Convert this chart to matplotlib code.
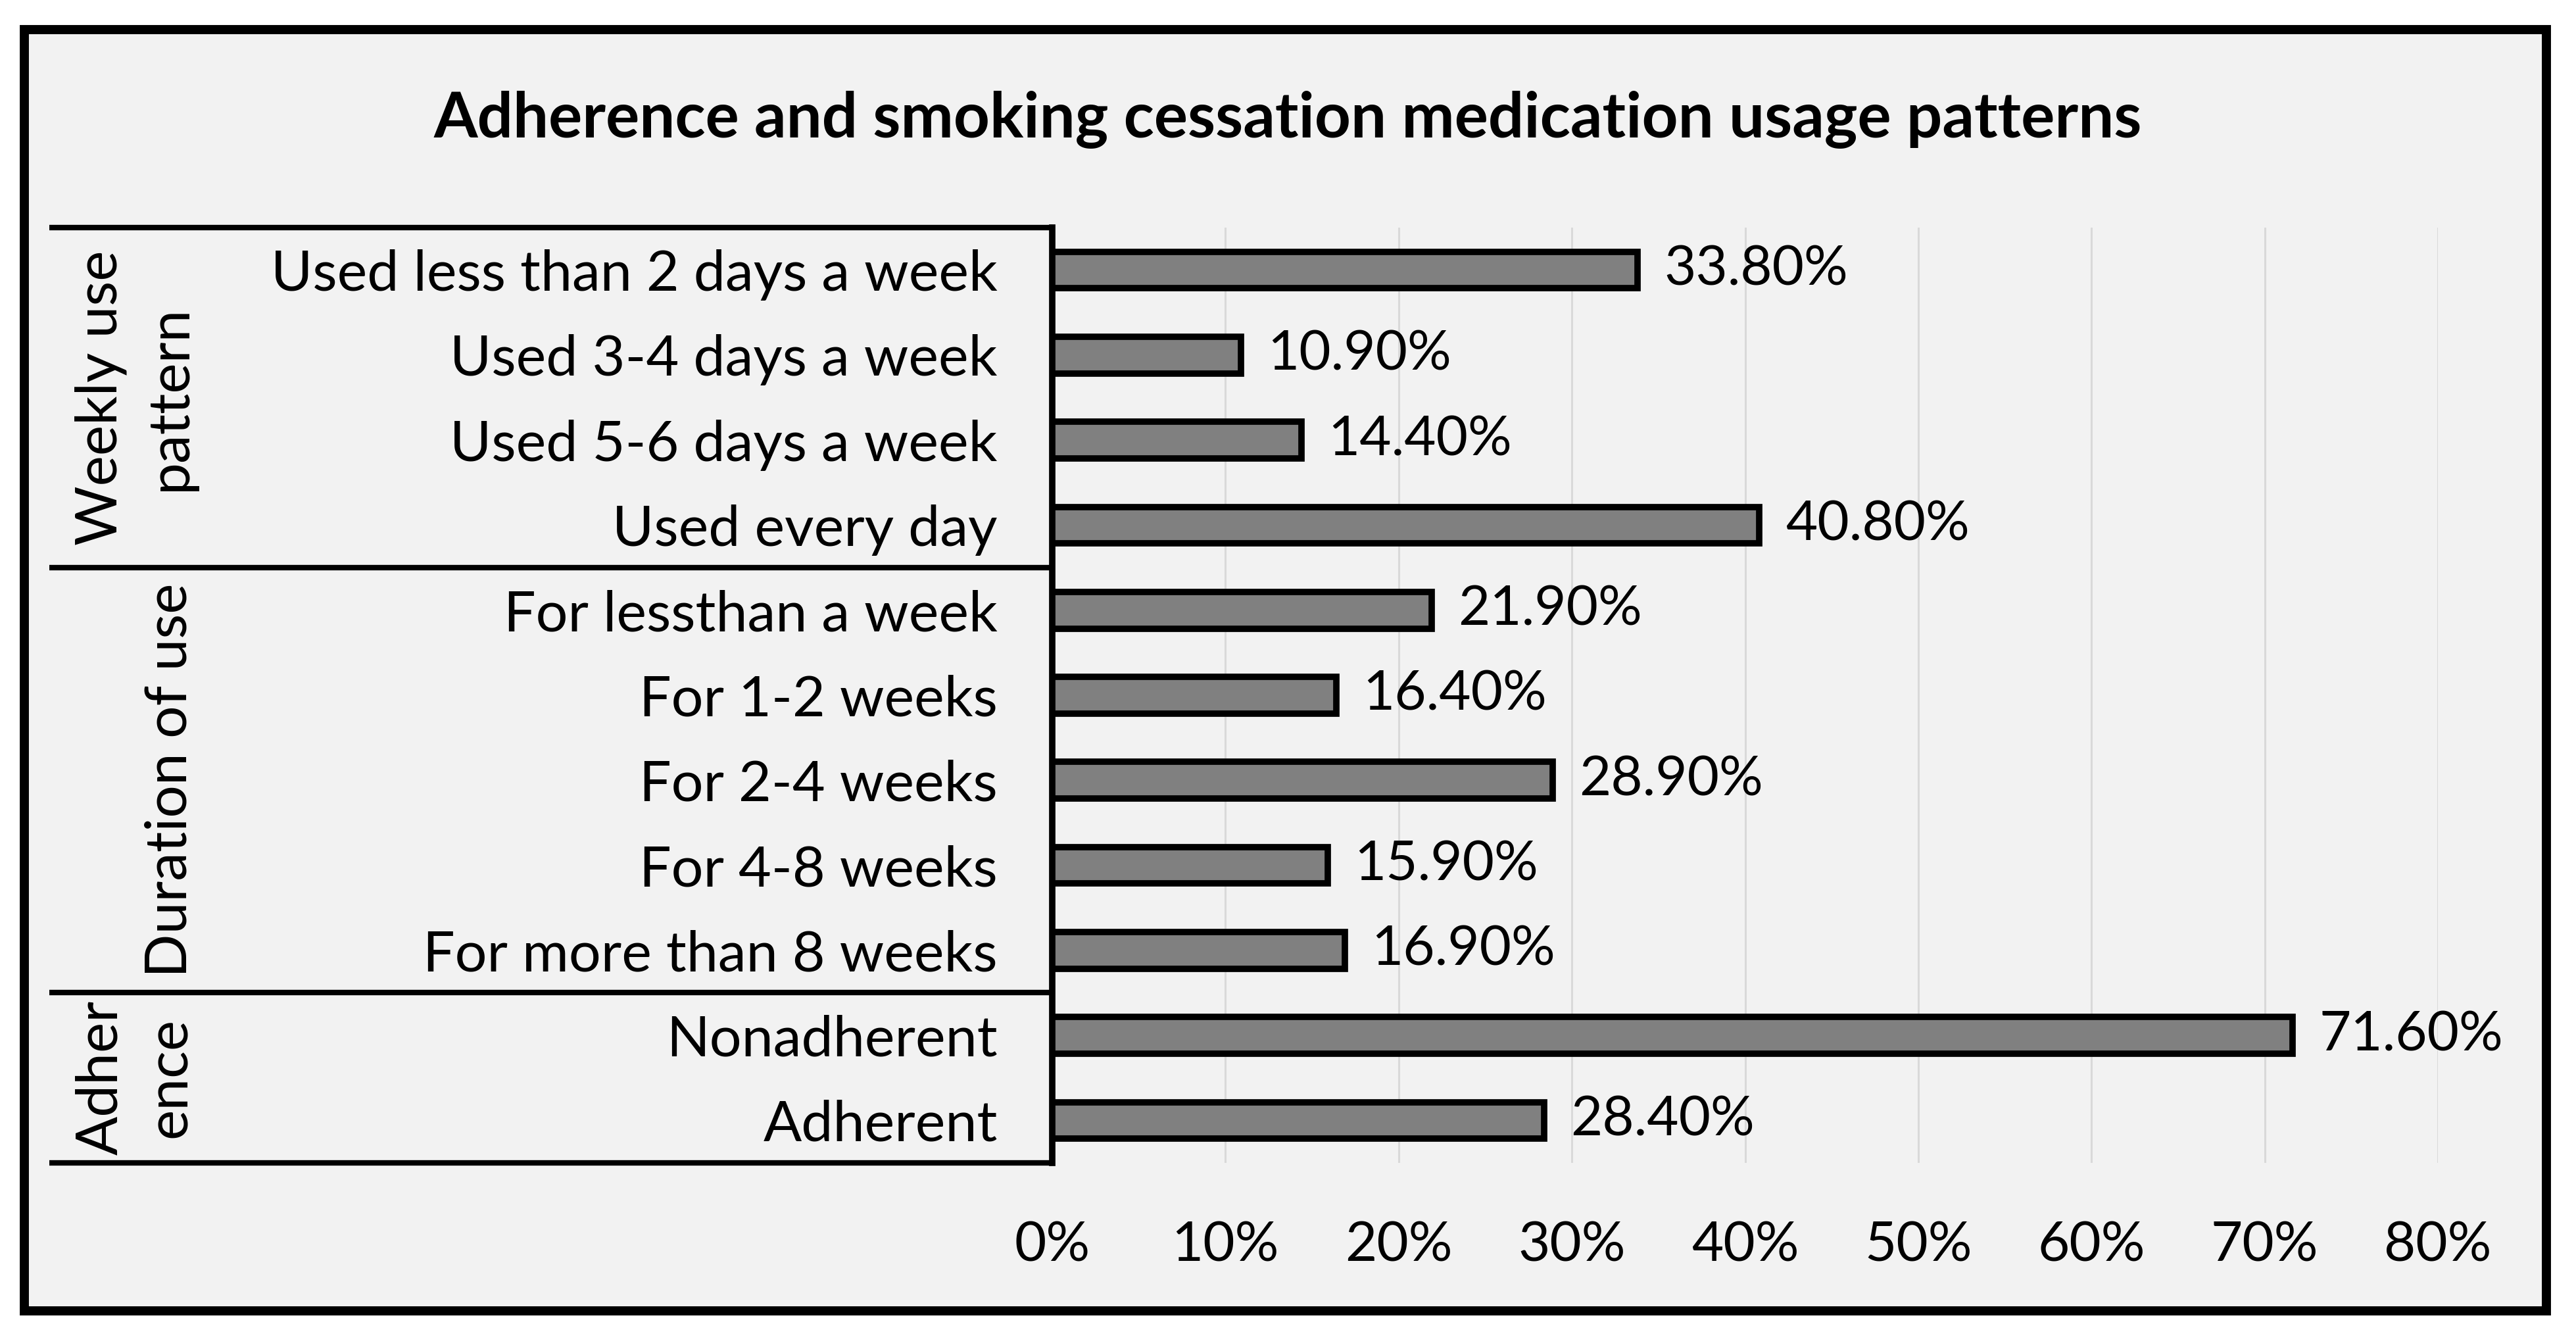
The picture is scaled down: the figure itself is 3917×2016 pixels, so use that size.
import matplotlib.pyplot as plt
from matplotlib.patches import Rectangle

# --- Данные ---
categories = ['Used less than 2 days a week', 'Used 3-4 days a week', 'Used 5-6 days a week',
              'Used every day', 'For lessthan a week', 'For 1-2 weeks', 'For 2-4 weeks',
              'For 4-8 weeks', 'For more than 8 weeks', 'Nonadherent', 'Adherent']
values = [33.8, 10.9, 14.4, 40.8, 21.9, 16.4, 28.9, 15.9, 16.9, 71.6, 28.4]
groups = ['Weekly use\npattern', 'Duration of use', 'Adher\nence']
group_sizes = [4, 5, 2]
xticks = [0, 10, 20, 30, 40, 50, 60, 70, 80]
title = 'Adherence and smoking cessation medication usage patterns'

W, H = 3917, 2016
DPI = 100
FONT = 'Lato'
FS = 60

plt.rcParams['font.family'] = [FONT, 'DejaVu Sans']

fig = plt.figure(figsize=(W / DPI, H / DPI), dpi=DPI, facecolor='white')

# рамка и фон
fig.patches.append(Rectangle((37 / W, 23 / H), (3872 - 37) / W, (1993 - 45) / H,
                             transform=fig.transFigure, facecolor='#f2f2f2',
                             edgecolor='black', linewidth=10, zorder=-10))

fig.text(0.5, 1 - 182 / H, title, ha='center', va='center', fontsize=69,
         fontweight='bold')

ax_left, ax_right = 1600, 3707
ax_top, ax_bottom = 346, 1768
ax = fig.add_axes([ax_left / W, (H - ax_bottom) / H, (ax_right - ax_left) / W,
                   (ax_bottom - ax_top) / H])
ax.set_facecolor('none')

y = list(range(len(categories)))
bars = ax.barh(y, values, height=0.43, color='#808080', edgecolor='black',
               linewidth=7, zorder=3)
for b, v in zip(bars, values):
    ax.annotate(f'{v:.2f}%', (b.get_width(), b.get_y() + b.get_height() / 2),
                xytext=(29, 0), textcoords='offset points', va='center',
                ha='left', fontsize=FS, annotation_clip=False)

ax.set_xlim(0, 80)
ax.set_ylim(len(categories) - 0.5, -0.5)
ax.set_xticks(xticks, labels=[f'{t}%' for t in xticks])
ax.set_yticks(y, labels=categories)
ax.tick_params(axis='x', length=0, pad=64, labelsize=FS)
ax.tick_params(axis='y', length=0, pad=60, labelsize=62)
ax.grid(axis='x', color='#d9d9d9', linewidth=2.2, zorder=0)
ax.set_axisbelow(True)
for s in ['top', 'right', 'bottom']:
    ax.spines[s].set_visible(False)
ax.spines['left'].set_linewidth(7)

# таблица групп слева
tr = ax.get_yaxis_transform()
x0 = (75 - ax_left) / (ax_right - ax_left)
xg = (298 - ax_left) / (ax_right - ax_left)
start = -0.5
ax.plot([x0, 0], [start, start], color='black', lw=6, transform=tr, clip_on=False,
        solid_capstyle='butt')
for g, n in zip(groups, group_sizes):
    end = start + n
    ax.plot([x0, 0], [end, end], color='black', lw=6, transform=tr, clip_on=False,
            solid_capstyle='butt')
    ax.text(xg, (start + end) / 2, g, rotation=90, ha='right', va='center',
            ma='center', fontsize=63, transform=tr, linespacing=1.4)
    start = end

fig.savefig('out.png', dpi=DPI, facecolor='white')
